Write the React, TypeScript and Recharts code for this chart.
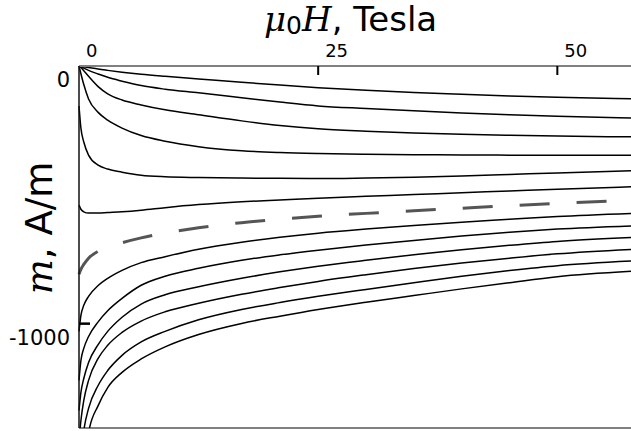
import { LineChart, Line, XAxis, YAxis, ReferenceLine } from 'recharts';

// field values (Tesla) sampled for every curve
const fieldT = [0, 0.2, 0.5, 1, 2, 3, 4.5, 6.5, 9, 12.5, 17, 21, 25, 30, 35, 40, 45, 50, 57.7];

// magnetisation curves, A/m (top to bottom)
const curve1 = [0, -1, -3, -6, -12, -17, -24, -32, -40, -50, -63, -74, -84, -94, -103, -110, -116, -121, -127];
const curve2 = [0, -3, -8, -17, -31, -44, -59, -76, -90, -104, -123, -140, -155, -165, -174, -182, -189, -195, -202];
const curve3 = [0, -6, -18, -40, -80, -108, -132, -151, -170, -189, -213, -231, -244, -253, -260, -265, -269, -272, -275];
const curve4 = [0, -30, -72, -128, -180, -210, -241, -270, -292, -313, -329, -336, -340, -343, -344, -345, -346, -346, -346];
const curve5 = [-155, -241, -295, -346, -385, -400, -412, -424, -430, -433, -435, -436, -437, -435, -432, -427, -421, -415, -407];
const curve6 = [-540, -556, -566, -571, -571, -569, -566, -560, -550, -538, -527, -520, -513, -506, -499, -492, -485, -478, -469];
const dashed = [-808, -789, -770, -746, -719, -704, -686, -667, -649, -628, -608, -595, -583, -572, -562, -552, -542, -533, -521];
const low1 = [-1030, -968, -929, -894, -852, -824, -793, -763, -740, -711, -684, -665, -649, -633, -619, -606, -595, -584, -572];
const low2 = [-1220, -1143, -1096, -1050, -993, -950, -902, -851, -816, -785, -754, -733, -715, -695, -677, -660, -645, -633, -621];
const low3 = [-1337, -1267, -1213, -1151, -1081, -1030, -975, -924, -888, -857, -824, -799, -777, -754, -733, -713, -696, -681, -666];
const low4 = [-1454, -1376, -1298, -1220, -1135, -1084, -1034, -990, -954, -921, -886, -860, -836, -810, -786, -765, -746, -729, -712];
const low5 = [-1609, -1512, -1415, -1329, -1240, -1182, -1123, -1071, -1030, -985, -945, -918, -894, -867, -841, -816, -794, -775, -757];
const low6 = [-1920, -1765, -1648, -1423, -1318, -1248, -1189, -1137, -1090, -1042, -999, -971, -945, -917, -891, -865, -841, -818, -797];

const xTicks = [0, 25, 50];
const yTicks = [0, -1000];

const solidCurves = { c1: curve1, c2: curve2, c3: curve3, c4: curve4, c5: curve5, c6: curve6, l1: low1, l2: low2, l3: low3, l4: low4, l5: low5, l6: low6 };

const data = fieldT.map((h, i) => {
  const row: Record<string, number> = { h, dashed: dashed[i] };
  Object.entries(solidCurves).forEach(([k, arr]) => { row[k] = arr[i]; });
  return row;
});

const FONT = '"DejaVu Sans", sans-serif';

// ticks drawn inward; label offsets are relative to the axis line
function TopTick(props: any) {
  const { x, y, payload } = props;
  return (
    <g>
      {payload.value !== 0 && <line x1={x} y1={y} x2={x} y2={y + 9} stroke="#000" strokeWidth={2} />}
      <text x={x + 7} y={y - 9} textAnchor="start" fontSize={18} fontFamily={FONT} fill="#000">{payload.value}</text>
    </g>
  );
}

function LeftTick(props: any) {
  const { x, y, payload } = props;
  return (
    <g>
      {payload.value !== 0 && <line x1={x} y1={y} x2={x + 11} y2={y} stroke="#000" strokeWidth={2.5} />}
      <text x={x - 9} y={y + 21} textAnchor="end" fontSize={21} fontFamily={FONT} fill="#000">{payload.value}</text>
    </g>
  );
}

export default function App() {
  return (
    <div style={{ position: 'absolute', left: 0, top: 0, width: 631, height: 431, background: '#fff' }}>
      <LineChart width={631} height={431} data={data} margin={{ top: 36, left: 19, right: 0, bottom: 3 }}>
        <XAxis dataKey="h" type="number" orientation="top" domain={[0, 57.7]} ticks={xTicks} height={30}
          tickSize={0} tickMargin={0} tick={<TopTick />} axisLine={{ stroke: '#808080', strokeWidth: 2 }} />
        <YAxis type="number" domain={[-1405, 0]} ticks={yTicks} width={60} allowDataOverflow
          tickSize={0} tickMargin={0} tick={<LeftTick />} axisLine={{ stroke: '#111', strokeWidth: 1.5 }} />
        <ReferenceLine y={-1405} stroke="#808080" strokeWidth={2} />
        {Object.keys(solidCurves).map((k) => (
          <Line key={k} dataKey={k} type="monotone" stroke="#000" strokeWidth={1.5} dot={false} isAnimationActive={false} />
        ))}
        <Line dataKey="dashed" type="monotone" stroke="#555" strokeWidth={3} strokeDasharray="30 27" dot={false} isAnimationActive={false} />
      </LineChart>
      <div style={{ position: 'absolute', left: 264, top: -3, fontSize: 34, fontFamily: FONT, whiteSpace: 'nowrap', lineHeight: '44px' }}>
        <span style={{ fontFamily: '"DejaVu Serif", serif', fontStyle: 'italic' }}>μ</span>
        <span style={{ fontSize: 25, position: 'relative', top: 3 }}>0</span>
        <span style={{ fontFamily: '"DejaVu Serif", serif', fontStyle: 'italic' }}>H</span>
        <span>, Tesla</span>
      </div>
      <div style={{ position: 'absolute', left: 40, top: 228, transform: 'translate(-50%, -50%) rotate(-90deg)', fontSize: 37, fontFamily: FONT, whiteSpace: 'nowrap', lineHeight: '44px' }}>
        <span style={{ fontFamily: '"DejaVu Serif", serif', fontStyle: 'italic' }}>m</span>
        <span>, A/m</span>
      </div>
    </div>
  );
}
